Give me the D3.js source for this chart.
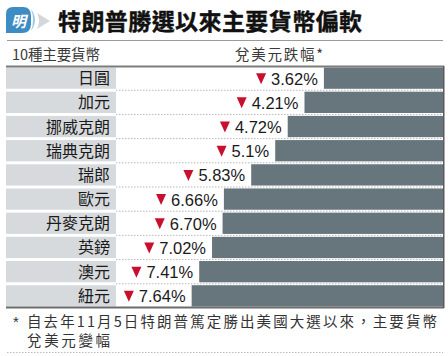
<!DOCTYPE html>
<html><head><meta charset="utf-8">
<script src="https://cdn.jsdelivr.net/npm/d3@7"></script>
<style>
html,body{margin:0;padding:0;background:#fff;}
svg{display:block;}
</style></head>
<body>
<svg id="c" width="448" height="356"></svg>
<script>
const title = "特朗普勝選以來主要貨幣偏軟";
const headerLeft = "10種主要貨幣";
const headerRight = "兌美元跌幅*";
const categories = ["日圓","加元","挪威克朗","瑞典克朗","瑞郎","歐元","丹麥克朗","英鎊","澳元","紐元"];
const values = [3.62, 4.21, 4.72, 5.1, 5.83, 6.66, 6.70, 7.02, 7.41, 7.64];
const valueLabels = ["3.62%","4.21%","4.72%","5.1%","5.83%","6.66%","6.70%","7.02%","7.41%","7.64%"];
const footLine1 = "自去年11月5日特朗普篤定勝出美國大選以來，主要貨幣";
const footLine2 = "兌美元變幅";

const svg = d3.select("#c");
const cjk = "'Noto Sans CJK TC','Noto Sans CJK SC',sans-serif";
const latin = "'Liberation Sans',Arial,sans-serif";

// Logo
const logo = svg.append("g");
logo.append("path")
  .attr("d", "M6,33 L6,14 Q6,7 13,7 L23,7 Q31,7 31,16 L31,24 Q31,33 22,33 Z")
  .attr("fill", "#3d8dc4");
logo.append("path")
  .attr("d", "M31,9 Q39,20 31,31 Q35,20 31,9 Z")
  .attr("fill", "#9fc8e6");
logo.append("path")
  .attr("d", "M37,13 L50,21 L37,29 Q41,21 37,13 Z")
  .attr("fill", "#d4d7da");
logo.append("text")
  .attr("x", 18.5).attr("y", 26.5)
  .attr("text-anchor", "middle")
  .attr("font-family", cjk).attr("font-weight", 700).attr("font-size", 15)
  .attr("font-style", "italic")
  .attr("fill", "#fff").text("明");

// Title
svg.append("text")
  .attr("x", 58).attr("y", 30)
  .attr("font-family", cjk).attr("font-weight", 700).attr("font-size", 23)
  .attr("textLength", 304).attr("lengthAdjust", "spacing")
  .attr("stroke", "#111").attr("stroke-width", 0.4)
  .attr("fill", "#111").text(title);

svg.append("line").attr("x1", 7).attr("x2", 443).attr("y1", 40.5).attr("y2", 40.5)
  .attr("stroke", "#9a9a9a").attr("stroke-width", 1.2);

// Header
svg.append("text").attr("x", 12).attr("y", 59.5)
  .attr("font-family", cjk).attr("font-size", 14.5).attr("fill", "#3a3a3a")
  .attr("textLength", 88).attr("lengthAdjust", "spacing").text(headerLeft);
svg.append("text").attr("x", 235).attr("y", 59.5)
  .attr("font-family", cjk).attr("font-size", 14.5).attr("fill", "#3a3a3a")
  .attr("textLength", 88).attr("lengthAdjust", "spacing").text(headerRight);

// Scales
const y = d3.scaleBand().domain(categories).range([67.5, 306.5]).paddingInner(0.12).paddingOuter(0);
const x = d3.scaleLinear().domain([0, 10]).range([443, 443 - 329]);
const labelX0 = 6, labelX1 = 116;

const rows = svg.append("g").selectAll("g").data(categories).join("g");

rows.append("rect")
  .attr("x", labelX0).attr("width", labelX1 - labelX0)
  .attr("y", d => y(d)).attr("height", y.bandwidth())
  .attr("fill", "#d7dadd");

rows.append("text")
  .attr("x", 110).attr("y", d => y(d) + y.bandwidth() / 2 + 6)
  .attr("text-anchor", "end")
  .attr("font-family", cjk).attr("font-size", 16).attr("fill", "#1a1a1a")
  .text(d => d);

// dotted separators
const seps = categories.slice(1);
svg.append("g").selectAll("line").data(seps).join("line")
  .attr("x1", labelX1).attr("x2", 443)
  .attr("y1", d => y(d) - y.step() * y.paddingInner() / 2)
  .attr("y2", d => y(d) - y.step() * y.paddingInner() / 2)
  .attr("stroke", "#b8b8b8").attr("stroke-width", 1)
  .attr("stroke-dasharray", "1.5,1.5");

// Bars
svg.append("g").selectAll("rect").data(values).join("rect")
  .attr("x", d => x(d)).attr("width", d => x(0) - x(d))
  .attr("y", (d, i) => y(categories[i])).attr("height", y.bandwidth())
  .attr("fill", "#67757d");

// Value labels with triangles
const vl = svg.append("g").selectAll("g").data(values).join("g");
vl.each(function(d, i) {
  const g = d3.select(this);
  const cy = y(categories[i]) + y.bandwidth() / 2;
  const t = g.append("text")
    .attr("x", x(d) - 6).attr("y", cy + 6.5)
    .attr("text-anchor", "end")
    .attr("font-family", latin).attr("font-size", 16.5).attr("fill", "#1a1a1a")
    .text(valueLabels[i]);
  const w = t.node().getComputedTextLength();
  const tx = x(d) - 6 - w - 5;
  g.append("path")
    .attr("d", `M${tx - 10},${cy - 5} L${tx},${cy - 5} L${tx - 5},${cy + 6} Z`)
    .attr("fill", "#c8102e");
});

// Frame lines
svg.append("line").attr("x1", 6).attr("x2", 444).attr("y1", 66.5).attr("y2", 66.5)
  .attr("stroke", "#7c7c7c").attr("stroke-width", 2);
svg.append("line").attr("x1", 6).attr("x2", 444).attr("y1", 307.5).attr("y2", 307.5)
  .attr("stroke", "#6c6c6c").attr("stroke-width", 2);
svg.append("line").attr("x1", 443.75).attr("x2", 443.75).attr("y1", 66).attr("y2", 308)
  .attr("stroke", "#5a5a5a").attr("stroke-width", 1.5);

// Footer
svg.append("text").attr("x", 13).attr("y", 327)
  .attr("font-family", latin).attr("font-size", 15).attr("fill", "#333").text("*");
svg.append("text").attr("x", 27).attr("y", 327)
  .attr("font-family", cjk).attr("font-size", 14.5).attr("fill", "#333")
  .attr("textLength", 410).attr("lengthAdjust", "spacing").text(footLine1);
svg.append("text").attr("x", 27).attr("y", 346)
  .attr("font-family", cjk).attr("font-size", 14.5).attr("fill", "#333")
  .attr("textLength", 83).attr("lengthAdjust", "spacing").text(footLine2);

svg.append("line").attr("x1", 7).attr("x2", 443).attr("y1", 352.5).attr("y2", 352.5)
  .attr("stroke", "#bdbdbd").attr("stroke-width", 1).attr("stroke-dasharray", "1.5,1.5");
</script>
</body></html>
